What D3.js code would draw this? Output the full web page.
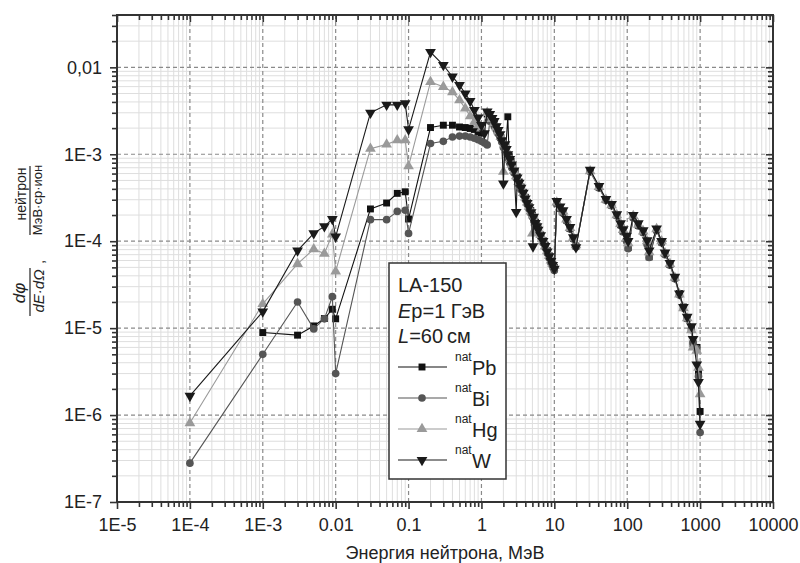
<!DOCTYPE html>
<html>
<head>
<meta charset="utf-8">
<script src="https://cdn.jsdelivr.net/npm/d3@7"></script>
<style>
  body { margin: 0; background: #fff; }
  svg { font-family: "Liberation Sans", Arial, sans-serif; }
</style>
</head>
<body>
<div id="chart"></div>
<script>
// data: [energy MeV, dphi/dE dOmega]
const pbData = [[1e-3, 8.9e-6], [3e-3, 8.3e-6], [5e-3, 1.06e-5], [7e-3, 1.29e-5], [9e-3, 1.65e-5], [0.01, 1.28e-5],
  [0.03, 2.35e-4], [0.05, 2.75e-4], [0.07, 3.55e-4], [0.09, 3.7e-4], [0.1, 1.8e-4],
  [0.2, 2.03e-3], [0.3, 2.16e-3], [0.4, 2.16e-3], [0.5, 2.06e-3], [0.6, 2.03e-3], [0.7, 1.98e-3], [0.8, 1.93e-3], [0.9, 1.8e-3], [1.0, 1.75e-3],
  [1.2, 2.9e-3], [1.3, 2.7e-3], [1.4, 2.5e-3], [1.5, 2.3e-3], [1.6, 2.05e-3], [1.7, 1.8e-3], [1.85, 1.55e-3], [2.0, 1.3e-3], [2.15, 1.12e-3],
  [2.3, 2.7e-3], [2.4, 9.5e-4], [2.55, 8.3e-4], [2.7, 7.3e-4], [2.9, 6.3e-4], [3.1, 5.5e-4], [3.3, 4.8e-4], [3.5, 4.2e-4], [3.75, 3.65e-4],
  [4.0, 3.2e-4], [4.25, 2.8e-4], [4.5, 2.5e-4], [4.75, 2.25e-4], [5.0, 2.0e-4], [5.25, 1.8e-4], [5.5, 1.65e-4], [5.75, 1.5e-4], [6, 1.38e-4],
  [6.5, 1.18e-4], [7, 1.02e-4], [7.5, 9.0e-5], [8, 7.8e-5], [8.5, 6.8e-5], [9, 6.0e-5], [9.5, 5.4e-5], [10, 5.0e-5],
  [10.8, 2.75e-4], [12, 2.4e-4], [13.2, 2.15e-4], [14.7, 1.75e-4], [16.4, 1.4e-4], [18.2, 1.08e-4], [19.8, 8.8e-5],
  [31, 6.5e-4], [41, 4.2e-4], [51, 3.0e-4], [61, 2.6e-4], [72, 2.0e-4], [81, 1.55e-4], [88, 1.3e-4], [98, 1.05e-4], [103, 8.5e-5],
  [121, 1.9e-4], [142, 1.52e-4], [166, 1.28e-4], [188, 9.5e-5], [200, 6.6e-5],
  [253, 1.35e-4], [296, 9.8e-5], [330, 7.2e-5], [385, 5.4e-5], [450, 3.8e-5], [520, 2.5e-5], [590, 1.75e-5], [665, 1.3e-5],
  [760, 9.8e-6], [800, 6.6e-6], [900, 6.0e-6], [950, 3.0e-6], [1000, 1.1e-6]];

const biData = [[1e-4, 2.8e-7], [1e-3, 5.0e-6], [3e-3, 2.0e-5], [5e-3, 9.8e-6], [7e-3, 1.28e-5], [9e-3, 2.3e-5], [0.01, 3.0e-6],
  [0.03, 1.77e-4], [0.05, 1.77e-4], [0.07, 2.2e-4], [0.09, 2.27e-4], [0.1, 1.23e-4],
  [0.2, 1.33e-3], [0.3, 1.41e-3], [0.4, 1.58e-3], [0.5, 1.62e-3], [0.6, 1.62e-3], [0.7, 1.58e-3], [0.8, 1.53e-3], [0.9, 1.47e-3], [1.0, 1.41e-3], [1.1, 1.35e-3], [1.2, 1.28e-3],
  [1.3, 2.4e-3], [1.4, 2.3e-3], [1.5, 2.1e-3], [1.6, 1.9e-3], [1.7, 1.72e-3], [1.8, 1.55e-3], [1.9, 1.38e-3], [2.0, 1.2e-3], [2.15, 1.05e-3],
  [2.3, 9.0e-4], [2.45, 7.9e-4], [2.6, 7.0e-4], [2.8, 6.1e-4], [3.0, 5.3e-4], [3.25, 4.5e-4], [3.5, 3.9e-4], [3.75, 3.4e-4], [4.0, 3.0e-4],
  [4.25, 2.65e-4], [4.5, 2.35e-4], [4.75, 2.1e-4], [5.0, 1.9e-4], [5.25, 1.7e-4], [5.5, 1.55e-4], [5.75, 1.42e-4], [6, 1.3e-4],
  [6.5, 1.12e-4], [7, 9.6e-5], [7.5, 8.4e-5], [8, 7.3e-5], [8.5, 6.4e-5], [9, 5.6e-5], [9.5, 5.0e-5], [10, 4.6e-5],
  [10.8, 2.7e-4], [12, 2.35e-4], [13.2, 2.1e-4], [14.7, 1.72e-4], [16.4, 1.38e-4], [18.2, 1.06e-4], [19.8, 8.6e-5],
  [31, 6.3e-4], [41, 4.1e-4], [51, 2.95e-4], [61, 2.55e-4], [72, 1.95e-4], [81, 1.52e-4], [88, 1.28e-4], [98, 1.0e-4], [103, 8.2e-5],
  [121, 1.85e-4], [142, 1.5e-4], [166, 1.25e-4], [188, 9.2e-5], [200, 6.5e-5],
  [253, 1.33e-4], [296, 9.6e-5], [330, 7.0e-5], [385, 5.3e-5], [450, 3.7e-5], [520, 2.4e-5], [590, 1.7e-5], [665, 1.28e-5],
  [760, 9.6e-6], [800, 6.8e-6], [900, 5.8e-6], [950, 2.8e-6], [1000, 6.3e-7]];

const hgData = [[1e-4, 8.1e-7], [1e-3, 1.9e-5], [3e-3, 5.5e-5], [5e-3, 8.1e-5], [7e-3, 7.2e-5], [9e-3, 1.2e-4], [0.01, 4.5e-5],
  [0.03, 1.16e-3], [0.05, 1.3e-3], [0.07, 1.45e-3], [0.09, 1.45e-3], [0.1, 7.3e-4],
  [0.2, 6.8e-3], [0.3, 5.97e-3], [0.4, 5.2e-3], [0.5, 4.2e-3], [0.6, 3.37e-3], [0.7, 2.74e-3], [0.8, 2.36e-3], [0.9, 2.16e-3], [1.0, 1.98e-3],
  [1.2, 3.0e-3], [1.3, 2.8e-3], [1.4, 2.55e-3], [1.5, 2.3e-3], [1.6, 2.05e-3], [1.7, 1.85e-3], [1.85, 1.6e-3], [2.0, 6.3e-4], [2.1, 1.3e-3],
  [2.2, 1.13e-3], [2.3, 9.8e-4], [2.45, 8.6e-4], [2.6, 7.6e-4], [2.8, 6.5e-4], [3.0, 5.6e-4], [3.25, 4.8e-4], [3.5, 4.1e-4], [3.75, 3.6e-4],
  [4.0, 3.2e-4], [4.25, 2.8e-4], [4.5, 2.5e-4], [4.75, 2.2e-4], [5.0, 1.23e-4], [5.1, 2.0e-4], [5.5, 1.65e-4], [5.75, 1.5e-4], [6, 1.38e-4],
  [6.5, 1.18e-4], [7, 1.0e-4], [7.5, 8.8e-5], [8, 7.7e-5], [8.5, 6.8e-5], [9, 6.0e-5], [9.5, 5.5e-5], [10, 5.2e-5],
  [10.8, 2.8e-4], [12, 2.45e-4], [13.2, 2.2e-4], [14.7, 1.78e-4], [16.4, 1.42e-4], [18.2, 1.1e-4], [19.8, 9.0e-5],
  [31, 6.4e-4], [41, 4.2e-4], [51, 3.0e-4], [61, 2.6e-4], [72, 2.0e-4], [81, 1.58e-4], [88, 1.35e-4], [98, 1.1e-4], [103, 9.5e-5],
  [121, 1.95e-4], [142, 1.55e-4], [166, 1.3e-4], [188, 1.0e-4], [200, 7.5e-5],
  [253, 1.38e-4], [296, 1.0e-4], [330, 7.3e-5], [385, 5.5e-5], [450, 3.8e-5], [520, 2.45e-5], [590, 1.7e-5], [665, 1.3e-5],
  [760, 9.5e-6], [800, 6.0e-6], [900, 5.5e-6], [950, 3.5e-6], [1000, 1.74e-6]];

const wData = [[1e-4, 1.66e-6], [1e-3, 1.55e-5], [3e-3, 7.8e-5], [5e-3, 1.23e-4], [7e-3, 1.48e-4], [9e-3, 1.8e-4], [0.01, 1.13e-4],
  [0.03, 3.0e-3], [0.05, 3.7e-3], [0.07, 3.7e-3], [0.09, 3.85e-3], [0.1, 1.93e-3],
  [0.2, 0.015], [0.3, 0.0106], [0.4, 7.8e-3], [0.5, 6.25e-3], [0.6, 5.0e-3], [0.7, 4.1e-3], [0.8, 3.23e-3], [0.9, 2.65e-3], [1.0, 2.16e-3], [1.1, 1.74e-3],
  [1.2, 3.1e-3], [1.3, 2.9e-3], [1.4, 2.6e-3], [1.5, 2.4e-3], [1.6, 2.1e-3], [1.7, 1.9e-3], [1.8, 1.7e-3], [1.9, 1.45e-3], [2.0, 4.6e-4],
  [2.1, 1.3e-3], [2.2, 1.15e-3], [2.3, 1.0e-3], [2.45, 8.8e-4], [2.6, 7.6e-4], [2.8, 6.5e-4], [3.0, 2.16e-4], [3.1, 5.4e-4], [3.3, 4.7e-4],
  [3.5, 4.1e-4], [3.75, 3.6e-4], [4.0, 3.1e-4], [4.25, 2.75e-4], [4.5, 2.45e-4], [4.8, 2.15e-4], [5.1, 8.7e-5], [5.2, 1.9e-4], [5.5, 1.62e-4],
  [5.8, 1.48e-4], [6, 1.35e-4], [6.5, 1.17e-4], [7, 1.0e-4], [7.5, 8.8e-5], [8, 7.6e-5], [8.5, 6.7e-5], [9, 5.9e-5], [9.5, 5.3e-5], [10, 4.8e-5],
  [10.8, 2.9e-4], [12, 2.5e-4], [13.2, 2.26e-4], [14.7, 1.8e-4], [16.4, 1.45e-4], [18.2, 1.11e-4], [19.8, 8.5e-5],
  [31, 6.6e-4], [41, 4.3e-4], [51, 3.05e-4], [61, 2.67e-4], [72, 2.04e-4], [81, 1.6e-4], [88, 1.37e-4], [98, 1.15e-4], [103, 1.0e-4],
  [121, 2.0e-4], [142, 1.6e-4], [166, 1.33e-4], [188, 1.02e-4], [200, 7.8e-5],
  [253, 1.4e-4], [296, 1.0e-4], [330, 7.4e-5], [385, 5.6e-5], [450, 3.9e-5], [520, 2.5e-5], [590, 1.75e-5], [665, 1.35e-5],
  [760, 1.05e-5], [800, 7.5e-6], [900, 3.8e-6], [950, 2.4e-6], [1000, 7.9e-7]];

const xTickVals = [1e-5, 1e-4, 1e-3, 1e-2, 1e-1, 1, 10, 100, 1000, 10000];
const xTickText = ["1E-5", "1E-4", "1E-3", "0.01", "0.1", "1", "10", "100", "1000", "10000"];
const yTickVals = [1e-7, 1e-6, 1e-5, 1e-4, 1e-3, 1e-2];
const yTickText = ["1E-7", "1E-6", "1E-5", "1E-4", "1E-3", "0,01"];

const seriesNames = ["Pb", "Bi", "Hg", "W"];
const seriesColors = ["#111", "#555", "#9a9a9a", "#1a1a1a"];
const seriesData = [pbData, biData, hgData, wData];

{ // scoping the chart

// layout
const W = 800, H = 563;
const pL = 117, pR = 773, pT = 15, pB = 502;

const svg = d3.select("#chart").append("svg")
  .attr("width", W).attr("height", H);

const x = d3.scaleLog().domain([1e-5, 1e4]).range([pL, pR]);
const y = d3.scaleLog().domain([1e-7, 0.04]).range([pB, pT]);

// minor values
const xMinor = [];
for (let k = -5; k < 4; k++) for (let m = 2; m <= 9; m++) xMinor.push(m * Math.pow(10, k));
const yMinor = [];
for (let k = -7; k < -1; k++) for (let m = 2; m <= 9; m++) {
  let v = m * Math.pow(10, k);
  if (v <= 0.0400001) yMinor.push(v);
}

// grid
const grid = svg.append("g");
grid.selectAll(".gx").data(xMinor).enter().append("line")
  .attr("x1", d => x(d)).attr("x2", d => x(d)).attr("y1", pT).attr("y2", pB)
  .attr("stroke", "#dedede").attr("stroke-width", 1);
grid.selectAll(".gy").data(yMinor).enter().append("line")
  .attr("y1", d => y(d)).attr("y2", d => y(d)).attr("x1", pL).attr("x2", pR)
  .attr("stroke", "#dedede").attr("stroke-width", 1);
grid.selectAll(".Gx").data(xTickVals.slice(1, -1)).enter().append("line")
  .attr("x1", d => x(d)).attr("x2", d => x(d)).attr("y1", pT).attr("y2", pB)
  .attr("stroke", "#8a8a8a").attr("stroke-width", 1.2).attr("stroke-dasharray", "4,3");
grid.selectAll(".Gy").data(yTickVals.slice(1)).enter().append("line")
  .attr("y1", d => y(d)).attr("y2", d => y(d)).attr("x1", pL).attr("x2", pR)
  .attr("stroke", "#8a8a8a").attr("stroke-width", 1.2).attr("stroke-dasharray", "4,3");

// axes
function styleAxis(g) {
  g.select(".domain").remove();
  g.selectAll(".tick line").attr("stroke", "#333").attr("stroke-width", 1.6);
  g.selectAll("text").attr("font-size", 18).attr("fill", "#222")
    .attr("font-family", "'Liberation Sans', Arial, sans-serif");
}

const ax = svg.append("g");
ax.append("g").attr("transform", `translate(0,${pB})`)
  .call(d3.axisBottom(x).tickValues(xMinor).tickSize(5).tickFormat(""))
  .call(styleAxis);
ax.append("g").attr("transform", `translate(0,${pB})`)
  .call(d3.axisBottom(x).tickValues(xTickVals).tickSize(7).tickPadding(9).tickFormat((d, i) => xTickText[i]))
  .call(styleAxis);
ax.append("g").attr("transform", `translate(0,${pT})`)
  .call(d3.axisTop(x).tickValues(xMinor).tickSize(-5).tickFormat(""))
  .call(styleAxis);
ax.append("g").attr("transform", `translate(0,${pT})`)
  .call(d3.axisTop(x).tickValues(xTickVals).tickSize(-7).tickFormat(""))
  .call(styleAxis);
ax.append("g").attr("transform", `translate(${pL},0)`)
  .call(d3.axisLeft(y).tickValues(yMinor).tickSize(5).tickFormat(""))
  .call(styleAxis);
ax.append("g").attr("transform", `translate(${pL},0)`)
  .call(d3.axisLeft(y).tickValues(yTickVals).tickSize(7).tickPadding(8).tickFormat((d, i) => yTickText[i]))
  .call(styleAxis);
ax.append("g").attr("transform", `translate(${pR},0)`)
  .call(d3.axisRight(y).tickValues(yMinor).tickSize(-5).tickFormat(""))
  .call(styleAxis);
ax.append("g").attr("transform", `translate(${pR},0)`)
  .call(d3.axisRight(y).tickValues(yTickVals).tickSize(-7).tickFormat(""))
  .call(styleAxis);

// frame
svg.append("rect").attr("x", pL).attr("y", pT)
  .attr("width", pR - pL).attr("height", pB - pT)
  .attr("fill", "none").attr("stroke", "#333").attr("stroke-width", 2);

// series
const symbols = [
  d3.symbol().type(d3.symbolSquare).size(48),
  d3.symbol().type(d3.symbolCircle).size(46),
  d3.symbol().type(d3.symbolTriangle).size(50),
  d3.symbol().type(d3.symbolTriangle).size(50)
];
const line = d3.line().x(d => x(d[0])).y(d => y(d[1]));
[0, 1, 2, 3].forEach(function(i) {
  const g = svg.append("g");
  g.append("path").datum(seriesData[i])
    .attr("d", line).attr("fill", "none")
    .attr("stroke", seriesColors[i]).attr("stroke-width", 1.1);
  g.selectAll("path.pt").data(seriesData[i]).enter().append("path")
    .attr("class", "pt")
    .attr("d", symbols[i])
    .attr("fill", seriesColors[i])
    .attr("transform", d => `translate(${x(d[0])},${y(d[1])})` + (i === 3 ? " rotate(180)" : ""));
});

// legend
const lg = svg.append("g").attr("transform", "translate(389,263)");
lg.append("rect").attr("width", 117).attr("height", 216)
  .attr("fill", "#fff").attr("stroke", "#333").attr("stroke-width", 1.5);
lg.append("text").attr("x", 9).attr("y", 29).attr("font-size", 20).attr("fill", "#222").text("LA-150");
const t2 = lg.append("text").attr("x", 9).attr("y", 55).attr("font-size", 20).attr("fill", "#222");
t2.append("tspan").attr("font-style", "italic").text("E");
t2.append("tspan").text("p=1 ГэВ");
const t3 = lg.append("text").attr("x", 9).attr("y", 80).attr("font-size", 20).attr("fill", "#222");
t3.append("tspan").attr("font-style", "italic").text("L");
t3.append("tspan").text("=60\u2009см");
seriesNames.forEach(function(name, i) {
  const yy = 104 + i * 31;
  lg.append("line").attr("x1", 9).attr("x2", 58).attr("y1", yy).attr("y2", yy)
    .attr("stroke", seriesColors[i]).attr("stroke-width", 1.1);
  lg.append("path").attr("d", symbols[i]).attr("fill", seriesColors[i])
    .attr("transform", `translate(33,${yy})` + (i === 3 ? " rotate(180)" : ""));
  lg.append("text").attr("x", 66).attr("y", yy - 6).attr("font-size", 12).attr("fill", "#222").text("nat");
  lg.append("text").attr("x", 83).attr("y", yy + 8).attr("font-size", 20).attr("fill", "#222").text(name);
});

// x title
svg.append("text").attr("x", 445).attr("y", 559).attr("text-anchor", "middle")
  .attr("font-size", 18).attr("fill", "#222").text("Энергия нейтрона, МэВ");

// y title (two fractions, rotated)
const yt = svg.append("g").attr("fill", "#222");
function rot(sel, px, py) { return sel.attr("transform", `translate(${px},${py}) rotate(-90)`).attr("text-anchor", "middle"); }
rot(yt.append("text"), 25, 293).attr("font-size", 17).attr("font-style", "italic").text("dφ");
yt.append("line").attr("x1", 30).attr("x2", 30).attr("y1", 268).attr("y2", 316).attr("stroke", "#222").attr("stroke-width", 1.2);
rot(yt.append("text"), 44, 291).attr("font-size", 15).attr("font-style", "italic").text("dE·dΩ");
rot(yt.append("text"), 44, 262).attr("font-size", 15).text(",");
rot(yt.append("text"), 26, 194).attr("font-size", 14).text("нейтрон");
yt.append("line").attr("x1", 30).attr("x2", 30).attr("y1", 166).attr("y2", 235).attr("stroke", "#222").attr("stroke-width", 1.2);
rot(yt.append("text"), 42, 200).attr("font-size", 13).text("МэВ·ср·ион");

} // scoping
</script>
</body>
</html>
